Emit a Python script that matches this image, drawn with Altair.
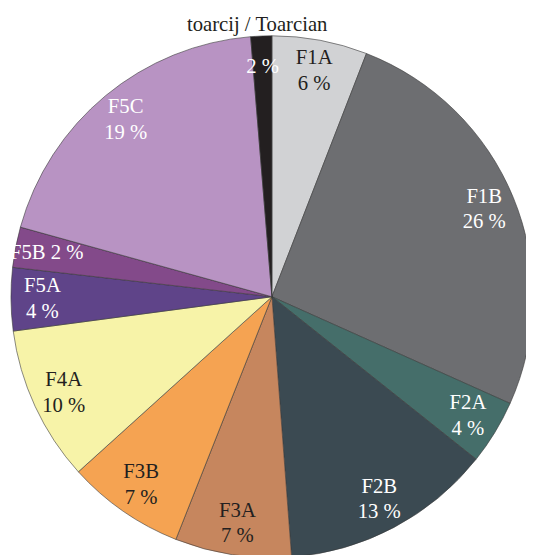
import altair as alt
import pandas as pd

categories = ["F1A", "F1B", "F2A", "F2B", "F3A", "F3B", "F4A", "F5A", "F5B", "F5C", "other"]
values = [5.9, 25.8, 4.0, 13.1, 7.2, 7.3, 9.6, 3.9, 2.5, 19.4, 1.3]
pct_labels = ["6 %", "26 %", "4 %", "13 %", "7 %", "7 %", "10 %", "4 %", "2 %", "19 %", "2 %"]
name_labels = ["F1A", "F1B", "F2A", "F2B", "F3A", "F3B", "F4A", "F5A", "F5B", "F5C", ""]
single_line = [False, False, False, False, False, False, False, False, True, False, True]

fill_colors = ["#d1d2d4", "#6d6e71", "#456e6a", "#3b4a52", "#c6865e", "#f5a352",
               "#f7f3a8", "#5f4489", "#834a8a", "#b893c3", "#231f20"]
text_colors = ["#231f20", "#ffffff", "#ffffff", "#ffffff", "#231f20", "#231f20",
               "#231f20", "#ffffff", "#ffffff", "#ffffff", "#ffffff"]

labels = []
for n, p, s in zip(name_labels, pct_labels, single_line):
    if s:
        labels.append((n + " " + p).strip())
    else:
        labels.append(n + "\n" + p)

df = pd.DataFrame({
    "cat": categories,
    "value": values,
    "idx": list(range(len(categories))),
    "label": labels,
    "single": single_line,
})

CX, CY, R = 268, 255, 265

base = alt.Chart(df).encode(
    theta=alt.Theta("value:Q", stack=True),
    order=alt.Order("idx:Q"),
)

arcs = base.mark_arc(outerRadius=R, stroke="#3a3a3a", strokeWidth=0.6).encode(
    color=alt.Color("cat:N", scale=alt.Scale(domain=categories, range=fill_colors), legend=None),
    x=alt.value(CX),
    y=alt.value(CY),
)

text_color = alt.Color("cat:N", scale=alt.Scale(domain=categories, range=text_colors), legend=None)

texts_two = base.mark_text(
    radius=233, font="Liberation Serif", fontSize=21, lineBreak="\n", lineHeight=26,
    baseline="middle", align="center", dy=-13,
).encode(
    text="label:N",
    color=text_color,
    opacity=alt.condition("datum.single", alt.value(0), alt.value(1)),
    x=alt.value(CX),
    y=alt.value(CY),
)

texts_one = base.mark_text(
    radius=233, font="Liberation Serif", fontSize=21,
    baseline="middle", align="center",
).encode(
    text="label:N",
    color=text_color,
    opacity=alt.condition("datum.single", alt.value(1), alt.value(0)),
    x=alt.value(CX),
    y=alt.value(CY),
)

chart = alt.layer(arcs, texts_two, texts_one).resolve_scale(color="independent").properties(
    width=526,
    height=513,
    padding={"top": 34, "left": 0, "right": 0, "bottom": 0},
    autosize=alt.AutoSizeParams(type="none"),
    title=alt.TitleParams(
        "toarcij / Toarcian", font="Liberation Serif", fontSize=21, fontWeight="normal",
        color="#231f20", offset=0, dx=-10,
    ),
).configure_view(stroke=None)

chart.save("out.html", embed_options={"renderer": "svg", "actions": False})
